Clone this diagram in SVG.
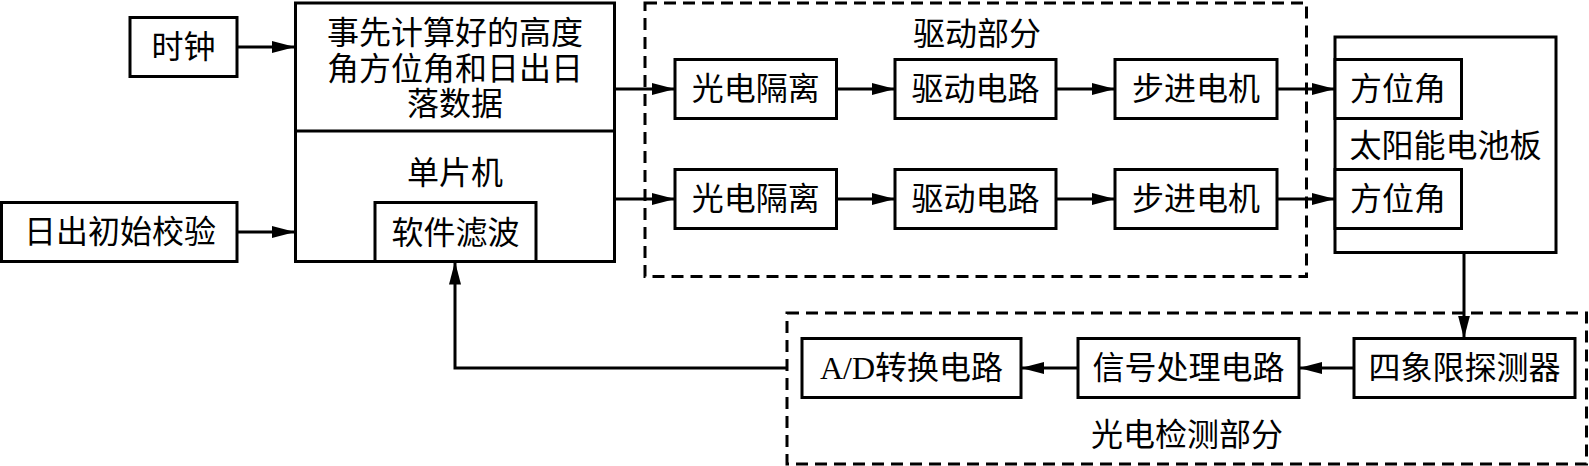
<svg xmlns="http://www.w3.org/2000/svg" width="1589" height="466" viewBox="0 0 1589 466">
<style>
.box{fill:#fff;stroke:#000;stroke-width:3}
.nb{fill:none;stroke:#000;stroke-width:3}
.dash{fill:none;stroke:#000;stroke-width:3;stroke-dasharray:12 7}
.t{font-family:"Liberation Serif","Noto Sans CJK SC",serif;font-size:32px;fill:#000;text-anchor:middle;dominant-baseline:central}
.c{fill:none;stroke:#000;stroke-width:3}
</style>
<defs>
<marker id="ah" markerUnits="userSpaceOnUse" markerWidth="24" markerHeight="12" refX="23" refY="6" orient="auto">
<path d="M0,0 L23,6 L0,12 z" fill="#000"/>
</marker>
</defs>
<g id="drive-group">
<rect class="dash" x="645" y="3" width="661.5" height="273.5"/>
<text class="t" x="977" y="34">驱动部分</text>
</g>
<g id="detect-group">
<rect class="dash" x="787" y="313" width="799.5" height="151"/>
<text class="t" x="1187" y="435">光电检测部分</text>
</g>
<g id="clock">
<rect class="box" x="130" y="17.5" width="107" height="59"/>
<text class="t" x="183.5" y="47">时钟</text>
</g>
<g id="sunrise-check">
<rect class="box" x="1.5" y="202.5" width="235.5" height="59"/>
<text class="t" x="120" y="232">日出初始校验</text>
</g>
<g id="mcu">
<rect class="box" x="295.5" y="3" width="319" height="258.5"/>
<line class="nb" x1="295.5" y1="131" x2="614.5" y2="131"/>
<text class="t" x="455" y="33">事先计算好的高度</text>
<text class="t" x="455" y="68.5">角方位角和日出日</text>
<text class="t" x="455" y="104">落数据</text>
<text class="t" x="455" y="173">单片机</text>
</g>
<g id="filter">
<rect class="box" x="375" y="202.5" width="161" height="59"/>
<text class="t" x="455.5" y="233">软件滤波</text>
</g>
<g id="iso1"><rect class="box" x="675" y="59.5" width="161.5" height="59"/><text class="t" x="755.75" y="89">光电隔离</text></g>
<g id="drv1"><rect class="box" x="895" y="59.5" width="161" height="59"/><text class="t" x="975.5" y="89">驱动电路</text></g>
<g id="motor1"><rect class="box" x="1115" y="59.5" width="162" height="59"/><text class="t" x="1196" y="89">步进电机</text></g>
<g id="iso2"><rect class="box" x="675" y="169.5" width="161.5" height="59"/><text class="t" x="755.75" y="199">光电隔离</text></g>
<g id="drv2"><rect class="box" x="895" y="169.5" width="161" height="59"/><text class="t" x="975.5" y="199">驱动电路</text></g>
<g id="motor2"><rect class="box" x="1115" y="169.5" width="162" height="59"/><text class="t" x="1196" y="199">步进电机</text></g>
<g id="solar">
<rect class="box" x="1335" y="37" width="221" height="215.5"/>
<text class="t" x="1445.5" y="146">太阳能电池板</text>
</g>
<g id="az1"><rect class="box" x="1335" y="59.5" width="126.5" height="59"/><text class="t" x="1398" y="89">方位角</text></g>
<g id="az2"><rect class="box" x="1335" y="169.5" width="126.5" height="59"/><text class="t" x="1398" y="199">方位角</text></g>
<g id="ad"><rect class="box" x="802" y="338.5" width="219" height="59"/><text class="t" x="911.5" y="368">A/D转换电路</text></g>
<g id="signal"><rect class="box" x="1078" y="338.5" width="221" height="59"/><text class="t" x="1188.5" y="368">信号处理电路</text></g>
<g id="quad"><rect class="box" x="1354" y="338.5" width="221" height="59"/><text class="t" x="1464.5" y="368">四象限探测器</text></g>
<g id="connectors">
<path class="c" d="M237,47 H295" marker-end="url(#ah)"/>
<path class="c" d="M237,232 H295" marker-end="url(#ah)"/>
<path class="c" d="M614.5,89 H675" marker-end="url(#ah)"/>
<path class="c" d="M614.5,199 H675" marker-end="url(#ah)"/>
<path class="c" d="M836.5,89 H895" marker-end="url(#ah)"/>
<path class="c" d="M836.5,199 H895" marker-end="url(#ah)"/>
<path class="c" d="M1056,89 H1115" marker-end="url(#ah)"/>
<path class="c" d="M1056,199 H1115" marker-end="url(#ah)"/>
<path class="c" d="M1277,89 H1335" marker-end="url(#ah)"/>
<path class="c" d="M1277,199 H1335" marker-end="url(#ah)"/>
<path class="c" d="M1464,252.5 V338.5" marker-end="url(#ah)"/>
<path class="c" d="M1354,368 H1299" marker-end="url(#ah)"/>
<path class="c" d="M1078,368 H1021" marker-end="url(#ah)"/>
<path class="c" d="M787,368 H455 V261.5" marker-end="url(#ah)"/>
</g>
</svg>
